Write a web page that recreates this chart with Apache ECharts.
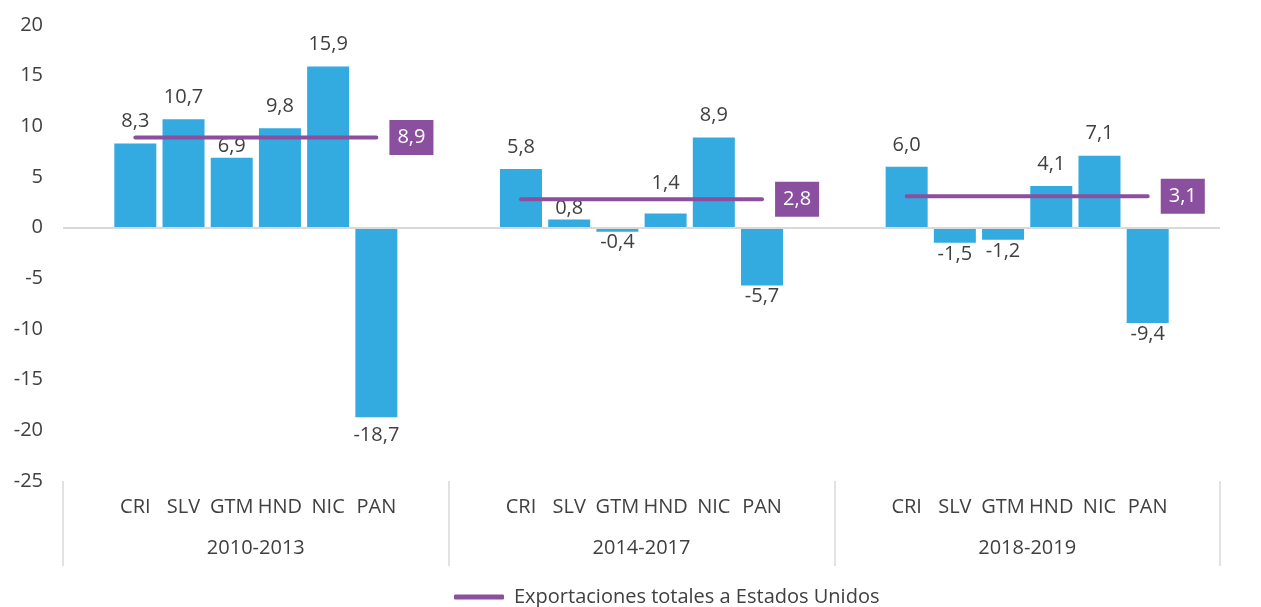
<!DOCTYPE html>
<html>
<head>
<meta charset="utf-8">
<script src="https://cdn.jsdelivr.net/npm/echarts@6/dist/echarts.min.js"></script>
<style>
  html, body { margin: 0; padding: 0; background: #ffffff; }
  #chart { width: 1261px; height: 607px; }
</style>
</head>
<body>
<div id="chart"></div>
<script>
// datos
const periodos = ['2010-2013', '2014-2017', '2018-2019']
const paises = ['CRI', 'SLV', 'GTM', 'HND', 'NIC', 'PAN']
const valores2010 = [8.3, 10.7, 6.9, 9.8, 15.9, -18.7]
const valores2014 = [5.8, 0.8, -0.4, 1.4, 8.9, -5.7]
const valores2018 = [6.0, -1.5, -1.2, 4.1, 7.1, -9.4]
const exportacionesTotales = [8.9, 2.8, 3.1]

const azul = '#33AAE0'
const morado = '#8A4F9E'
const texto = '#404040'
const fuente = 'Open Sans'
const tam = 20
const fmt = v => v.toFixed(1).replace('.', ',')

// etiquetas movidas a mano en el original (grupo-pais: desplazamiento vertical)
const ajustes = {'0-2': 11, '0-5': 7, '1-1': 11, '1-3': -8}

// cada periodo: un hueco, seis paises, un hueco
const grupos = [valores2010, valores2014, valores2018]
let categorias = []
let barras = []
let linea = []
grupos.forEach((vals, g) => {
  categorias.push('')
  barras.push(null)
  linea.push(null)
  vals.forEach((v, i) => {
    categorias.push(paises[i])
    let dy = ajustes[g + '-' + i] || 0
    barras.push({
      value: v,
      label: {
        position: v < 0 ? 'bottom' : 'top',
        distance: v < 0 ? 1 : 12,
        offset: [0, dy]
      }
    })
    let punto = {value: exportacionesTotales[g]}
    if (i === vals.length - 1) {
      punto.label = {
        show: true,
        position: 'right',
        distance: 13,
        formatter: p => fmt(p.value),
        color: '#ffffff',
        backgroundColor: morado,
        padding: [8, 8, 7, 8],
        fontSize: tam,
        fontFamily: fuente
      }
    }
    linea.push(punto)
  })
  categorias.push('')
  barras.push(null)
  linea.push(null)
})

let chart = echarts.init(document.getElementById('chart'))
let option = {
  animation: false,
  textStyle: {fontFamily: fuente, color: texto},
  grid: {left: 63, right: 41, top: 25, bottom: 126},
  legend: {
    data: ['Exportaciones totales a Estados Unidos'],
    bottom: -5,
    left: 449,
    icon: 'roundRect',
    itemWidth: 50,
    itemHeight: 5,
    textStyle: {fontSize: tam, color: texto, fontFamily: fuente, padding: [0, 0, 0, 5]}
  },
  xAxis: [
    {
      type: 'category',
      data: categorias,
      position: 'bottom',
      axisLine: {show: false, onZero: false},
      axisTick: {show: false},
      axisLabel: {interval: 0, margin: 16, fontSize: tam, color: texto}
    },
    {
      type: 'category',
      data: periodos,
      position: 'bottom',
      axisLine: {show: false, onZero: false},
      axisTick: {show: true, length: 85, lineStyle: {color: '#d9d9d9', width: 1.5}},
      axisLabel: {margin: 57, fontSize: tam, color: texto}
    }
  ],
  yAxis: {
    type: 'value',
    min: -25,
    max: 20,
    interval: 5,
    axisLine: {show: false},
    axisTick: {show: false},
    splitLine: {show: false},
    axisLabel: {margin: 20, fontSize: tam, color: texto}
  },
  series: [
    {
      name: 'Variacion',
      type: 'bar',
      data: barras,
      barWidth: 42,
      itemStyle: {color: azul},
      label: {
        show: true,
        fontSize: tam,
        color: texto,
        formatter: p => fmt(p.value)
      },
      markLine: {
        silent: true,
        symbol: 'none',
        label: {show: false},
        lineStyle: {color: '#d9d9d9', width: 2, type: 'solid'},
        data: [{yAxis: 0}]
      },
      z: 2
    },
    {
      name: 'Exportaciones totales a Estados Unidos',
      type: 'line',
      data: linea,
      showSymbol: true,
      symbol: 'circle',
      symbolSize: 0.1,
      connectNulls: false,
      lineStyle: {color: morado, width: 4, cap: 'round'},
      itemStyle: {color: morado},
      z: 3
    }
  ]
}
chart.setOption(option)
</script>
</body>
</html>
